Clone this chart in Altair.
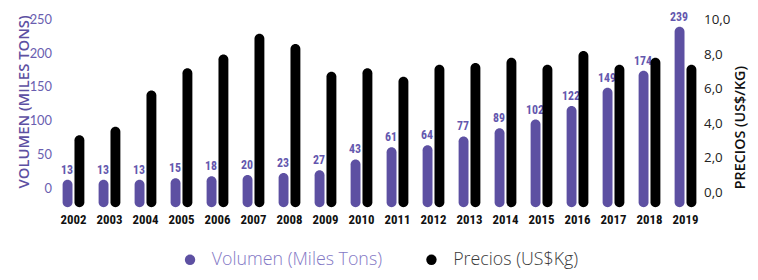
import altair as alt
import pandas as pd

years = [str(y) for y in range(2002, 2020)]
volumen = [13, 13, 13, 15, 18, 20, 23, 27, 43, 61, 64, 77, 89, 102, 122, 149, 174, 239]
precios = [3.3, 3.8, 5.9, 7.2, 8.0, 9.2, 8.6, 7.0, 7.2, 6.7, 7.4, 7.5, 7.8, 7.4, 8.2, 7.4, 7.8, 7.4]
series = ["Volumen (Miles Tons)", "Precios (US$Kg)"]
vol_ticks = [0, 50, 100, 150, 200, 250]
price_ticks = [0, 2, 4, 6, 8, 10]

df = pd.DataFrame({"year": years, "vol": volumen, "price": precios})

PURPLE = "#5d50a2"
VOL_DOMAIN = [-27.8, 256]
PRICE_DOMAIN = [-0.88, 10.27]
COND = "Roboto Condensed, Liberation Sans Narrow, DejaVu Sans Condensed, Arial Narrow, sans-serif"

color_scale = alt.Scale(domain=series, range=[PURPLE, "#000000"])
legend = alt.Legend(
    title=None, orient="none", legendX=127, legendY=238, direction="horizontal",
    symbolType="circle", symbolSize=110, symbolStrokeWidth=0,
    labelFont="Open Sans", labelFontSize=18, labelFontWeight=300, labelLimit=400,
    labelOffset=13, columnPadding=40,
    labelColor={"expr": "datum.label == 'Precios (US$Kg)' ? '#3a3a3a' : '#8378c5'"},
)

x = alt.X(
    "year:N", title=None, sort=years,
    scale=alt.Scale(paddingInner=0, paddingOuter=0),
    axis=alt.Axis(labelAngle=0, ticks=False, domain=False, labelPadding=6,
                  labelFont=COND, labelFontWeight="bold", labelFontSize=13,
                  labelColor="#111111"),
)

vol_y = alt.Y("vol:Q", scale=alt.Scale(domain=VOL_DOMAIN, nice=False, zero=False),
              axis=alt.Axis(values=vol_ticks, title="VOLUMEN (MILES TONS)", grid=False,
                            ticks=False, domain=False, labelPadding=4,
                            labelFont="Lato", labelFontSize=13, labelColor="#6a5eb0",
                            titleFont="Open Sans", titleFontWeight=600, titleFontSize=15,
                            titleColor=PURPLE, titleAngle=270, titleBaseline="middle",
                            titleX=-32, titleY=87))

base = alt.Chart(df).encode(x=x)

vol_bars = base.transform_calculate(series="'Volumen (Miles Tons)'").mark_bar(
    width=10, xOffset=-6, cornerRadius=5
).encode(
    y=vol_y,
    y2=alt.datum(VOL_DOMAIN[0]),
    color=alt.Color("series:N", scale=color_scale, legend=legend),
)

vol_text = base.mark_text(
    xOffset=-6.5, dy=-3, baseline="bottom", font=COND, fontWeight="bold",
    fontSize=12, color="#6457ae"
).encode(
    y=vol_y,
    text="vol:Q",
)

vol_layer = alt.layer(vol_bars, vol_text)

price_bars = base.transform_calculate(series="'Precios (US$Kg)'").mark_bar(
    width=10, xOffset=6, cornerRadius=5
).encode(
    y=alt.Y("price:Q", scale=alt.Scale(domain=PRICE_DOMAIN, nice=False, zero=False),
            axis=alt.Axis(orient="right", values=price_ticks, title="PRECIOS (US$/KG)",
                          grid=False, ticks=False, domain=False, labelPadding=0,
                          labelExpr="replace(format(datum.value, '.1f'), '.', ',')",
                          labelFont="Open Sans", labelFontSize=13.5, labelColor="#222222",
                          titleFont="Open Sans", titleFontWeight=600, titleFontSize=14.5,
                          titleColor="#111111", titleAngle=270, titleBaseline="middle",
                          titleX=37, titleY=113)),
    y2=alt.datum(PRICE_DOMAIN[0]),
    color=alt.Color("series:N", scale=color_scale, legend=legend),
)

chart = alt.layer(vol_layer, price_bars).resolve_scale(y="independent").properties(
    width=655, height=194,
    autosize=alt.AutoSizeParams(type="none"),
    padding={"left": 48, "top": 6, "right": 47, "bottom": 64},
).configure_view(stroke=None)

chart.save("out.html", embed_options={"renderer": "svg", "actions": False})
